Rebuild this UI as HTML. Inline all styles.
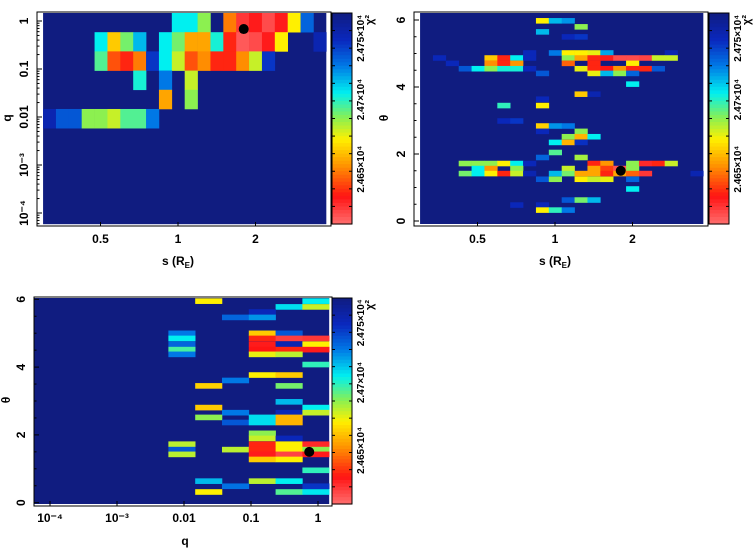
<!DOCTYPE html>
<html><head><meta charset="utf-8"><style>
html,body{margin:0;padding:0;background:#fff;}
svg text{font-family:"Liberation Sans",sans-serif;font-weight:bold;fill:#000;}
</style></head><body>
<svg id="fig" width="754" height="549" viewBox="0 0 754 549" xmlns="http://www.w3.org/2000/svg"></svg>
<script>
// ---------- data ----------
// Panel 1: s (22 log bins) vs q (11 log bins, row 0 = top)
const p1Col=[10,11,12,14,15,16,17,18,19,20, 4,5,6,7,9,10,11,12,13,14,15,16,17,18,21, 4,5,6,7,8,9,10,11,12,13,14,15,16,17, 7,9,11, 9,11, 0,1,2,3,4,5,6,7,8];
const p1Row=[0,0,0,0,0,0,0,0,0,0, 1,1,1,1,1,1,1,1,1,1,1,1,1,1,1, 2,2,2,2,2,2,2,2,2,2,2,2,2,2, 3,3,3, 4,4, 5,5,5,5,5,5,5,5,5];
const p1Val=[.62,.62,.5,.25,.08,.12,.05,.12,.4,.78, .62,.35,.52,.68,.62,.52,.3,.3,.6,.15,.03,.05,.12,.4,.9, .55,.2,.15,.25,.85,.62,.45,.2,.27,.15,.15,.27,.45,.85, .6,.75,.45, .3,.5, .9,.8,.8,.5,.5,.45,.55,.55,.75];
const p1Best=[1.8,0.68];
// Panel 2: s column vs theta centre
const p2Theta=[5.98,5.98,5.98,5.80,5.65,5.50,5.50,
 5.02,5.02,5.02,5.02,5.02,5.02,5.02,
 4.87,4.87,4.87,4.87,4.87,4.87,4.87,4.87,4.87,4.87,4.87,4.87,4.87,4.87,
 4.71,4.71,4.71,4.71,4.71,4.71,4.71,
 4.55,4.55,4.55,4.55,4.55,4.55,4.55,4.55,4.55,4.55,4.55,4.55,4.55,
 4.41,4.41,4.41,4.41,4.41, 4.09, 3.79,3.79, 3.64, 3.45,3.45, 2.99,2.99, 2.84,2.84,2.84, 2.68,2.68, 2.52,2.52,2.52, 2.35,2.35,2.35, 2.05, 1.90,1.90,
 1.72,1.72,1.72,1.72,1.72,1.72,1.72,1.72,1.72,1.72,1.72,1.72,
 1.57,1.57,1.57,1.57,1.57,1.57,1.57,1.57,
 1.42,1.42,1.42,1.42,1.42,1.42,1.42,1.42,1.42,1.42,1.42,1.42,1.42,1.42,1.42,
 1.25,1.25,1.25,1.25,1.25,1.25, 0.96, 0.63,0.63,0.63, 0.48,0.48, 0.33,0.33,0.33];
const p2Col=[9,10,11,12,9,11,12,
 8,10,11,12,13,14,19,
 1,5,6,7,8,11,12,13,14,15,16,17,18,19,
 2,5,6,7,11,13,16,
 3,4,5,6,7,8,12,13,14,15,16,17,18,
 9,13,14,15,16, 16, 12,13, 9, 6,9, 6,7, 9,10,11, 9,12, 11,12,13, 10,11,12, 10, 9,12,
 3,4,5,6,7,8,13,14,16,17,18,19,
 4,5,7,11,13,14,15,16,
 3,4,5,6,7,8,10,11,12,13,14,15,16,17,21,
 9,10,12,13,14,16, 16, 11,12,13, 7,9, 9,10,11];
const p2Val=[.4,.68,.72,.5,.68,.88,.85,
 .88,.75,.4,.4,.42,.7,.9,
 .88,.35,.15,.62,.88,.5,.3,.15,.12,.05,.05,.06,.45,.45,
 .88,.27,.15,.28,.22,.15,.4,
 .8,.62,.5,.6,.6,.88,.42,.15,.13,.28,.15,.15,.8,
 .8,.42,.68,.5,.78, .62, .35,.9, .88, .58,.4, .88,.85, .36,.72,.75, .88,.5, .5,.32,.62, .62,.32,.86, .55, .78,.48,
 .5,.5,.5,.4,.62,.88,.15,.28,.5,.1,.15,.45,
 .62,.28,.5,.45,.3,.18,.04,.5,
 .52,.62,.4,.15,.45,.9,.68,.52,.3,.3,.15,.3,.22,.08,.9,
 .8,.5,.4,.45,.42,.78, .62, .8,.52,.68, .88,.88, .4,.58,.75];
const p2Best=[1.8,1.5];
// Panel 3: q column (11 log bins) vs theta centre
const p3Theta=[5.95,5.95, 5.78,5.78, 5.63, 5.47,5.47, 5.0,5.0,5.0, 4.85,4.85,4.85,4.85, 4.68,4.68,4.68,4.68, 4.52,4.52,4.52,4.52, 4.38,4.38,4.38, 4.08, 3.77,3.77, 3.61, 3.45,3.45, 2.98, 2.81,2.81, 2.66,2.66,2.66, 2.52,2.52,2.52, 2.37,2.37,2.37, 2.05, 1.9,1.9, 1.73,1.73,1.73,1.73, 1.57,1.57,1.57,1.57,1.57, 1.43,1.43,1.43,1.43, 1.28,1.28, 0.96, 0.64,0.64,0.64, 0.49,0.49, 0.32,0.32,0.32];
const p3Col=[6,10, 9,10, 8, 7,8, 5,8,9, 5,8,9,10, 5,8,9,10, 5,8,9,10, 5,8,9, 10, 8,9, 7, 6,9, 9, 6,10, 7,9,10, 6,8,9, 7,8,9, 8, 8,9, 5,8,9,10, 5,7,8,9,10, 5,8,9,10, 8,9, 10, 6,8,9, 7,10, 6,9,10];
const p3Val=[.4,.62, .64,.45, .88, .78,.72, .75,.35,.8, .62,.15,.07,.08, .78,.12,.9,.4, .56,.13,.15,.12, .75,.42,.46, .58, .4,.35, .75, .36,.52, .68, .35,.62, .75,.88,.45, .5,.64,.32, .8,.64,.32, .5, .45,.88, .46,.15,.4,.1, .8,.46,.15,.4,.5, .46,.12,.06,.12, .35,.4, .58, .68,.46,.62, .76,.85, .4,.55,.63];
const p3Best=[0.74,1.5];
const sTicks=[0.5,1,2], sTickLabels=["0.5","1","2"];
const qTicks=[1,0.1,0.01,0.001,0.0001];
const thTicks=[0,2,4,6];
const cbarLabels=["2.475×10⁴","2.47×10⁴","2.465×10⁴"];

// ---------- helpers ----------
const NS="http://www.w3.org/2000/svg";
const svg=document.getElementById('fig');
function mk(tag,attrs,parent){const e=document.createElementNS(NS,tag);for(const k in attrs)e.setAttribute(k,attrs[k]);(parent||svg).appendChild(e);return e;}
const stops=[[0,[255,110,110]],[0.13,[255,20,20]],[0.28,[255,150,0]],[0.4,[255,240,0]],[0.5,[140,240,80]],[0.62,[0,240,240]],[0.75,[0,120,230]],[0.87,[10,40,190]],[1,[16,28,128]]];
function cmap(v){v=Math.max(0,Math.min(1,v));for(let i=1;i<stops.length;i++){if(v<=stops[i][0]){const a=stops[i-1],b=stops[i],t=(v-a[0])/(b[0]-a[0]);const c=a[1].map((x,j)=>Math.round(x+(b[1][j]-x)*t));return`rgb(${c[0]},${c[1]},${c[2]})`;}}return'rgb(16,28,128)';}
const BG='rgb(16,28,128)';

const sX=(s,off)=>178+off+257.5*Math.log10(s);
const sColEdge=(k,off)=>sX(Math.pow(10,-0.524+0.05*k),off);
const q1Y=q=>21-48*Math.log10(q);
const qRowEdge=r=>q1Y(Math.pow(10,0.167-0.4*r));
const th2Y=t=>221-33.5*t;
const q3X=q=>318+67*Math.log10(q);
const q3ColEdge=k=>q3X(Math.pow(10,-4.233+0.4*k));
const th3Y=t=>502.7-33.9*t;
const TH_BIN=0.157;

function frame(x0,y0,x1,y1,name){const r=mk('rect',{x:x0,y:y0,width:x1-x0,height:y1-y0,fill:'none',stroke:'#000','stroke-width':1});}
function text(x,y,str,opts,name){const t=mk('text',Object.assign({x:x,y:y,'font-size':12,'text-anchor':'middle'},opts||{}));t.textContent=str;return t;}
function vtext(x,y,str,name,size){return text(0,0,str,{'font-size':size||12,transform:`translate(${x},${y}) rotate(-90)`},name);}
function colorbar(x0,y0,x1,y1,name){
  const g=mk('g',{});
  const n=60;for(let i=0;i<n;i++){const v=1-i/n;mk('rect',{x:x0,y:y0+(y1-y0)*i/n,width:x1-x0,height:(y1-y0)/n+0.6,fill:cmap(v-0.5/n)},g);}
  mk('rect',{x:x0,y:y0,width:x1-x0,height:y1-y0,fill:'none',stroke:'#000'},g);
  for(let i=1;i<12;i++){const y=y0+(y1-y0)*i/12;mk('line',{x1:x0,x2:x0+3,y1:y,y2:y,stroke:'#000'},g);mk('line',{x1:x1-3,x2:x1,y1:y,y2:y,stroke:'#000'},g);}
  const lx=x1+12;
  vtext(lx,y0+(y1-y0)*0.12,cbarLabels[0],'colorbar-label-high',10);
  vtext(lx,y0+(y1-y0)*0.41,cbarLabels[1],'colorbar-label-mid',10);
  vtext(lx,y0+(y1-y0)*0.74,cbarLabels[2],'colorbar-label-low',10);
  vtext(x1+21,y0+7,'χ²','colorbar-title',11);
}
function bestDot(x,y,name){const c=mk('circle',{cx:x,cy:y,r:5,fill:'#000'});}

// ---------- panel 1 ----------
(function(){
  const L=sColEdge(0,0),R=sColEdge(22,0),T=qRowEdge(0),B=qRowEdge(11);
  const bg=mk('rect',{x:L,y:T,width:R-L,height:B-T,fill:BG});
  for(let i=0;i<p1Val.length;i++){
    const x0=sColEdge(p1Col[i],0),x1=sColEdge(p1Col[i]+1,0),y0=qRowEdge(p1Row[i]),y1=qRowEdge(p1Row[i]+1);
    const r=mk('rect',{x:x0,y:y0,width:x1-x0+0.3,height:y1-y0+0.3,fill:cmap(p1Val[i])});
    
    
  }
  bestDot(sX(p1Best[0],0),q1Y(p1Best[1]),'best-fit-point');
  frame(37,12,331,226,'panel1-frame');
  for(let d=-5;d<=0;d++)for(let m=1;m<10;m++){const y=q1Y(m*Math.pow(10,d));if(y<12||y>226)continue;const len=m==1?5:2.5;mk('line',{x1:37,x2:37+len,y1:y,y2:y,stroke:'#000'});}
  sTicks.forEach((s,i)=>{text(sX(s,0),243,sTickLabels[i],{},'x-tick-label');mk('line',{x1:sX(s,0),x2:sX(s,0),y1:226,y2:222,stroke:'#000'});});
  const ql=["1","0.1","0.01","10⁻³","10⁻⁴"];
  qTicks.forEach((q,i)=>vtext(28,q1Y(q),ql[i],'y-tick-label'));
  text(178,265,'',{},'x-axis-title').innerHTML='s (R<tspan font-size="8" dy="3">E</tspan><tspan dy="-3">)</tspan>';
  vtext(11,118,'q','y-axis-title',12);
  colorbar(332,13,352,224,'panel1-colorbar');
})();

// ---------- panel 2 ----------
(function(){
  const off=377;
  const L=sColEdge(0,off),R=sColEdge(22,off),T=13,B=224;
  const bg=mk('rect',{x:L,y:T,width:R-L,height:B-T,fill:BG});
  for(let i=0;i<p2Val.length;i++){
    const x0=sColEdge(p2Col[i],off),x1=sColEdge(p2Col[i]+1,off),y0=th2Y(p2Theta[i]+TH_BIN/2),y1=th2Y(p2Theta[i]-TH_BIN/2);
    const r=mk('rect',{x:x0,y:y0,width:x1-x0+0.3,height:y1-y0+0.3,fill:cmap(p2Val[i])});
    
    
  }
  bestDot(sX(p2Best[0],off),th2Y(p2Best[1]),'best-fit-point');
  frame(414,12,708,226,'panel2-frame');
  for(let t=0;t<=6.2;t+=0.5){const y=th2Y(t);mk('line',{x1:414,x2:414+(t%2==0?5:2.5),y1:y,y2:y,stroke:'#000'});}
  sTicks.forEach((s,i)=>{text(sX(s,off),243,sTickLabels[i],{},'x-tick-label');mk('line',{x1:sX(s,off),x2:sX(s,off),y1:226,y2:222,stroke:'#000'});});
  thTicks.forEach(t=>vtext(405,th2Y(t),String(t),'y-tick-label'));
  text(555,265,'',{},'x-axis-title').innerHTML='s (R<tspan font-size="8" dy="3">E</tspan><tspan dy="-3">)</tspan>';
  vtext(388,118,'θ','y-axis-title',12);
  colorbar(709,13,729,224,'panel2-colorbar');
})();

// ---------- panel 3 ----------
(function(){
  const L=q3ColEdge(0),R=q3ColEdge(11),T=298,B=504;
  const bg=mk('rect',{x:L,y:T,width:R-L,height:B-T,fill:BG});
  for(let i=0;i<p3Val.length;i++){
    const x0=q3ColEdge(p3Col[i]),x1=q3ColEdge(p3Col[i]+1),y0=th3Y(p3Theta[i]+TH_BIN/2),y1=th3Y(p3Theta[i]-TH_BIN/2);
    const r=mk('rect',{x:x0,y:y0,width:x1-x0+0.3,height:y1-y0+0.3,fill:cmap(p3Val[i])});
    
    
  }
  bestDot(q3X(p3Best[0]),th3Y(p3Best[1]),'best-fit-point');
  frame(34,297,332,506,'panel3-frame');
  for(let t=0;t<=6.2;t+=0.5){const y=th3Y(t);mk('line',{x1:34,x2:34+(t%2==0?5:2.5),y1:y,y2:y,stroke:'#000'});}
  const ql=["1","0.1","0.01","10⁻³","10⁻⁴"];
  qTicks.forEach((q,i)=>{text(q3X(q),522,ql[i],{},'x-tick-label');mk('line',{x1:q3X(q),x2:q3X(q),y1:506,y2:501,stroke:'#000'});});
  thTicks.forEach(t=>vtext(25,th3Y(t),String(t),'y-tick-label'));
  text(185,545,'q',{'font-size':12},'x-axis-title');
  vtext(10,400,'θ','y-axis-title',12);
  colorbar(332,298,352,504,'panel3-colorbar');
})();
</script>
</body></html>
